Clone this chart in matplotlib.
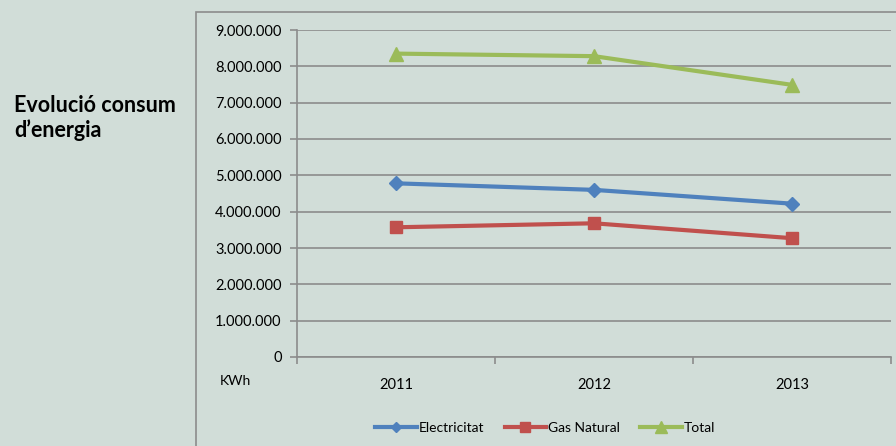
import matplotlib.pyplot as plt
from matplotlib.patches import Rectangle
from matplotlib.ticker import FuncFormatter, FixedLocator

years = ["2011", "2012", "2013"]
electricitat = [4780000, 4600000, 4220000]
gas_natural = [3570000, 3680000, 3270000]
total = [e + g for e, g in zip(electricitat, gas_natural)]

bg = "#D1DDD8"
grey = "#8C8C8C"
plt.rcParams['font.family'] = ['Lato', 'DejaVu Sans']

fig = plt.figure(figsize=(8.96, 4.46), dpi=100, facecolor=bg)
ax = fig.add_axes([297/896, 1 - 357/446, (891 - 297)/896, (357 - 30)/446])
ax.set_facecolor(bg)

# outer chart frame
fig.patches.append(Rectangle((196/896, -0.05), 1.0, 1 - 12/446 + 0.05, transform=fig.transFigure,
                             fill=False, edgecolor=grey, linewidth=1.2))

x = range(len(years))
ax.plot(x, electricitat, color="#4F81BD", lw=3, marker="D", ms=7, label="Electricitat", zorder=3)
ax.plot(x, gas_natural, color="#C0504D", lw=3, marker="s", ms=9, label="Gas Natural", zorder=3)
ax.plot(x, total, color="#9BBB59", lw=3, marker="^", ms=10, label="Total", zorder=3)

ax.set_xlim(-0.5, 2.5)
ax.set_ylim(0, 9000000)
ax.set_yticks(range(0, 9000001, 1000000))
ax.yaxis.set_major_formatter(FuncFormatter(lambda v, p: f"{int(v):,}".replace(",", ".")))
ax.grid(axis="y", color=grey, lw=1.2)
ax.set_axisbelow(True)

ax.set_xticks(list(x))
ax.set_xticklabels(years)
ax.xaxis.set_minor_locator(FixedLocator([-0.5, 0.5, 1.5, 2.5]))
ax.tick_params(axis="x", which="major", length=0, pad=15, labelsize=10.5)
ax.tick_params(axis="x", which="minor", length=5, color=grey, width=1.2)
ax.tick_params(axis="y", length=5, color=grey, width=1.2, labelsize=10.5, pad=6)

for s in ["top", "right"]:
    ax.spines[s].set_visible(False)
for s in ["left", "bottom"]:
    ax.spines[s].set_color(grey)
    ax.spines[s].set_linewidth(1.2)

fig.text(14/896, 1 - 118/446, "Evolució consum\nd\u2019energia", fontsize=15.5, fontweight="bold",
         va="center", ha="left", linespacing=1.2)
fig.text(220/896, 1 - 381/446, "KWh", fontsize=10, va="center", ha="left")

handles, labels = ax.get_legend_handles_labels()
fig.legend(handles, labels, loc="center", bbox_to_anchor=(545/896, 1 - 428/446), ncol=3,
           frameon=False, fontsize=10, handlelength=3, handletextpad=0.1, columnspacing=1.5,
           markerscale=0.8)

fig.savefig("out.png", dpi=100, facecolor=bg)
